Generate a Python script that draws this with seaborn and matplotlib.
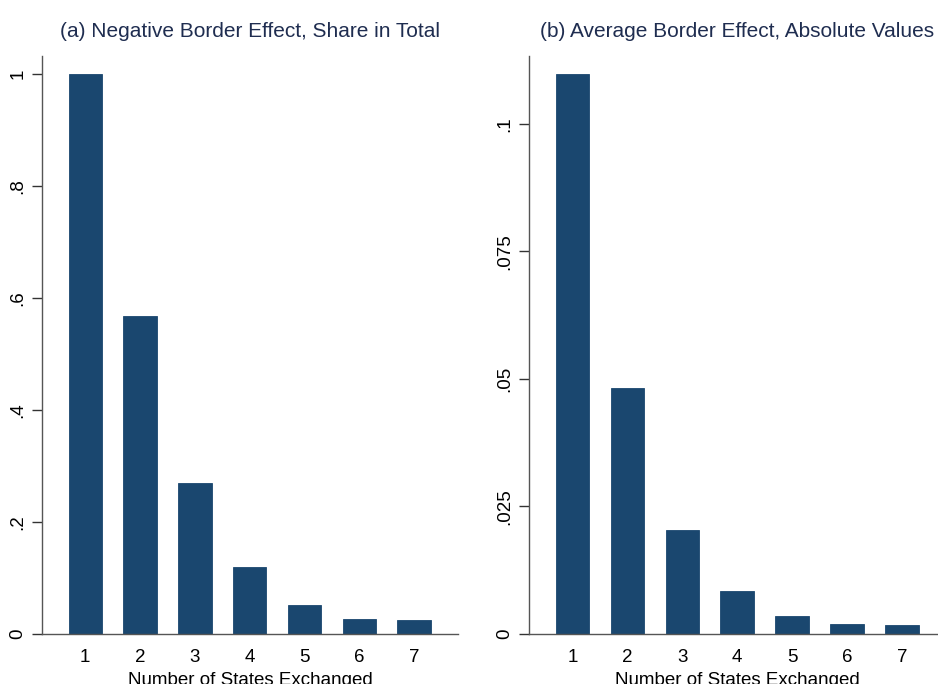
import numpy as np
import pandas as pd
import seaborn as sns
import matplotlib.pyplot as plt

sns.set_theme(style="white")
plt.rcParams['font.family'] = ['Liberation Sans', 'DejaVu Sans']

# values
states = [1, 2, 3, 4, 5, 6, 7]
neg_share = [1.0, 0.568, 0.27, 0.119, 0.052, 0.027, 0.025]
avg_abs = [0.1098, 0.0482, 0.0204, 0.0084, 0.0035, 0.0019, 0.0017]

ticks_a = [0, 0.2, 0.4, 0.6, 0.8, 1.0]
labels_a = ['0', '.2', '.4', '.6', '.8', '1']
ticks_b = [0, 0.025, 0.05, 0.075, 0.1]
labels_b = ['0', '.025', '.05', '.075', '.1']

titles = ['(a) Negative Border Effect, Share in Total',
          '(b) Average Border Effect, Absolute Values']
xlab = 'Number of States Exchanged'

navy = '#1a476f'
W, H = 938, 684


def bar_panel(ax, vals, ticks, labels, ytop, title):
    df = pd.DataFrame({'states': states, 'val': vals})
    sns.barplot(data=df, x='states', y='val', color=navy, width=0.61,
                saturation=1, edgecolor=navy, linewidth=0.6, ax=ax)
    ax.set_xlim(-0.79, 6.8)
    ax.set_ylim(0, ytop)
    ax.set_yticks(ticks)
    ax.set_yticklabels(labels, rotation=90, va='center')
    ax.tick_params(axis='y', length=7, width=1, color='#333333', labelsize=13.5,
                   labelcolor='black', pad=4, left=True)
    ax.tick_params(axis='x', length=0, labelsize=13.5, labelcolor='black', pad=11)
    for s in ['top', 'right']:
        ax.spines[s].set_visible(False)
    for s in ['left', 'bottom']:
        ax.spines[s].set_color('#555555')
        ax.spines[s].set_linewidth(1)
    ax.set_xlabel(xlab, fontsize=13.5, color='black', labelpad=4)
    ax.set_ylabel('')
    ax.set_title(title, fontsize=15, color='#1f2d50', pad=14)


fig = plt.figure(figsize=(W / 100, H / 100), dpi=100)
bottom = (H - 634) / H
height = (634 - 56) / H
ax1 = fig.add_axes([42 / W, bottom, (458 - 42) / W, height])
ax2 = fig.add_axes([529 / W, bottom, (946 - 529) / W, height])

bar_panel(ax1, neg_share, ticks_a, labels_a, 1.032, titles[0])
bar_panel(ax2, avg_abs, ticks_b, labels_b, 0.1133, titles[1])

fig.savefig('out.png', dpi=100)
